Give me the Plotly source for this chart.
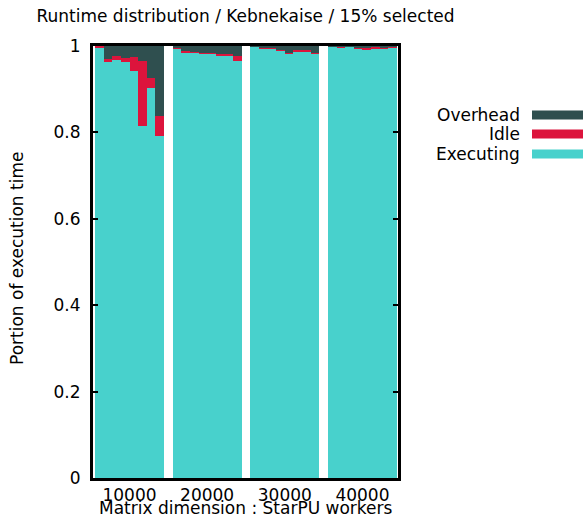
import plotly.graph_objects as go

# ---- data ----
groups = ["10000", "20000", "30000", "40000"]
series_names = ["Overhead", "Idle", "Executing"]
series_colors = ["#2f4f4f", "#dc143c", "#48d1cc"]

executing = [
    [0.996, 0.964, 0.968, 0.962, 0.943, 0.814, 0.903, 0.792],
    [0.995, 0.986, 0.984, 0.982, 0.982, 0.977, 0.977, 0.965],
    [0.998, 0.995, 0.995, 0.989, 0.982, 0.985, 0.986, 0.982],
    [0.998, 0.997, 0.998, 0.995, 0.991, 0.995, 0.995, 0.997],
]
idle = [
    [0.004, 0.005, 0.008, 0.011, 0.032, 0.152, 0.023, 0.046],
    [0.001, 0.002, 0.002, 0.002, 0.002, 0.004, 0.004, 0.012],
    [0.000, 0.002, 0.002, 0.002, 0.002, 0.006, 0.005, 0.002],
    [0.000, 0.002, 0.000, 0.001, 0.005, 0.003, 0.001, 0.002],
]
overhead = [
    [0.000, 0.031, 0.024, 0.027, 0.025, 0.034, 0.074, 0.162],
    [0.004, 0.012, 0.014, 0.016, 0.016, 0.019, 0.019, 0.023],
    [0.002, 0.003, 0.003, 0.009, 0.016, 0.009, 0.009, 0.016],
    [0.002, 0.001, 0.002, 0.004, 0.004, 0.002, 0.004, 0.001],
]
y_ticks = [0, 0.2, 0.4, 0.6, 0.8, 1]
y_ticktext = ["0", "0.2", "0.4", "0.6", "0.8", "1"]

# ---- layout constants ----
W, H = 585, 517
L, R, T, B = 93, 187, 46, 39
FONT = "DejaVu Sans"
FS = 17
nb = len(executing[0])
period = nb + 1

xs = [g * period + j for g in range(len(groups)) for j in range(nb)]
flat = lambda a: [v for row in a for v in row]

fig = go.Figure()
for name, color, data in [("Executing", series_colors[2], executing),
                          ("Idle", series_colors[1], idle),
                          ("Overhead", series_colors[0], overhead)]:
    fig.add_trace(go.Bar(x=xs, y=flat(data), name=name, width=1,
                         marker=dict(color=color, line=dict(width=0)),
                         showlegend=False))

pw = W - L - R
ph = H - T - B
def px_x(p):
    return (p - L) / pw
def px_y(p):
    return (H - B - p) / ph

# manual legend (text left of swatch)
leg_rows = [115, 134, 154]
shapes = []
annotations = []
for name, color, yy in zip(series_names, series_colors, leg_rows):
    shapes.append(dict(type="rect", xref="paper", yref="paper",
                       x0=px_x(532), x1=px_x(583),
                       y0=px_y(yy + 4.5), y1=px_y(yy - 4.5),
                       fillcolor=color, line=dict(width=0)))
    annotations.append(dict(text=name, xref="paper", yref="paper",
                            x=px_x(522), y=px_y(yy), xanchor="right",
                            yanchor="middle", showarrow=False,
                            font=dict(family=FONT, size=FS, color="black")))

annotations.append(dict(text="Portion of execution time", xref="paper", yref="paper",
                        x=px_x(17), y=px_y(259), textangle=-90,
                        xanchor="center", yanchor="middle", showarrow=False,
                        font=dict(family=FONT, size=FS, color="black")))
annotations.append(dict(text="Matrix dimension : StarPU workers", xref="paper", yref="paper",
                        x=0.5, y=px_y(507.5), xanchor="center", yanchor="middle",
                        showarrow=False,
                        font=dict(family=FONT, size=FS, color="black")))

fig.update_layout(
    width=W, height=H,
    margin=dict(l=L, r=R, t=T, b=B),
    paper_bgcolor="white", plot_bgcolor="white",
    barmode="stack", bargap=0,
    font=dict(family=FONT, size=FS, color="black"),
    title=dict(text="Runtime distribution / Kebnekaise / 15% selected",
               xref="paper", x=0.5, xanchor="center",
               yref="container", y=1 - 16.5 / H, yanchor="middle",
               font=dict(family=FONT, size=FS, color="black")),
    shapes=shapes, annotations=annotations,
    showlegend=False,
)
fig.update_xaxes(range=[-0.73, (len(groups) - 1) * period + nb - 1 + 0.62],
                 tickvals=[g * period + (nb - 1) / 2 for g in range(len(groups))],
                 ticktext=groups, ticks="", showline=True, linewidth=3,
                 linecolor="black", mirror=True, showgrid=False, zeroline=False,
                 tickfont=dict(family=FONT, size=FS, color="black"))
fig.update_yaxes(range=[0, 1], tickvals=y_ticks, ticktext=y_ticktext,
                 ticks="inside", ticklen=5, tickwidth=2, tickcolor="black",
                 showline=True, linewidth=3, linecolor="black", mirror="allticks",
                 showgrid=False, zeroline=False, ticklabelstandoff=6,
                 tickfont=dict(family=FONT, size=FS, color="black"))

fig.write_html("out.html", config={"displayModeBar": False},
               post_script="document.body.style.margin='0';document.body.style.overflow='hidden';")
